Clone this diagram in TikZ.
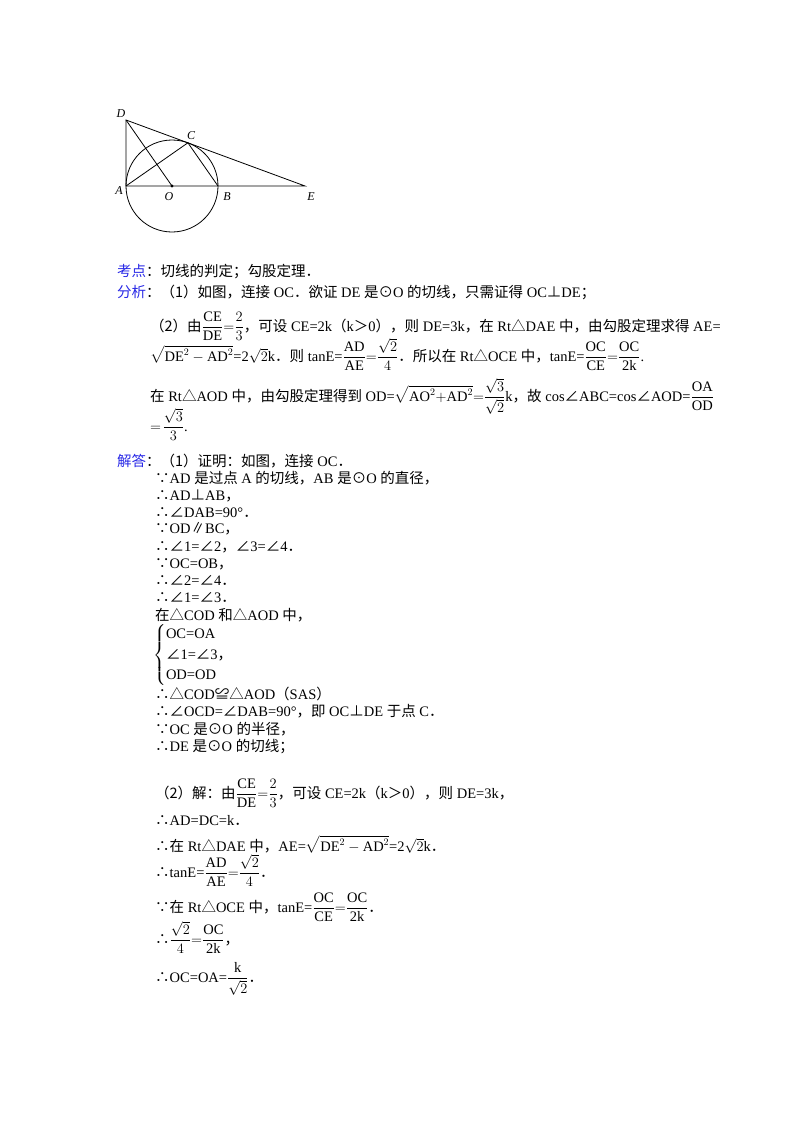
\documentclass[tikz,border=0pt]{standalone}
\usepackage{fontspec}
\usepackage{amsmath}
\setmainfont{Liberation Serif}
\newfontfamily\cjk{Noto Sans CJK SC}
\newcommand\Z[1]{{\cjk #1}}
\definecolor{lab}{RGB}{40,40,230}
\tikzset{txt/.style={anchor=base west,inner sep=0pt,font=\fontsize{14.5}{17}\selectfont},
 lbl/.style={txt,text=lab},
 pt/.style={inner sep=0pt,font=\fontsize{12}{12}\selectfont\itshape},
 geo/.style={line width=0.8pt}}
\newcommand\fr[2]{\dfrac{\mathrm{#1}}{\mathrm{#2}}}
\begin{document}
\begin{tikzpicture}[x=1pt,y=-1pt]
\useasboundingbox (0,0) rectangle (800,1132);
% figure
\coordinate (O) at (172,186);
\coordinate (A) at (126,186);
\coordinate (B) at (218,186);
\coordinate (D) at (126,120);
\coordinate (C) at (187.9,142.8);
\coordinate (E) at (305,186);
\draw[geo] (O) circle (46);
\draw[geo] (D)--(A)--(E)--cycle;
\draw[geo] (D)--(O);
\draw[geo] (A)--(C)--(B);
\fill (O) circle (1.6);
\node[pt] (lD) at (121,114) {D};
\node[pt] (lC) at (191,136) {C};
\node[pt] (lA) at (119,191) {A};
\node[pt] (lO) at (169,197) {O};
\node[pt] (lB) at (227,197) {B};
\node[pt] (lE) at (311,197) {E};
% analysis
\node[lbl] (k1) at (117,276) {\Z{考点}};
\node[txt] (k2) at (146,276) {\Z{：切线的判定；勾股定理．}};
\node[lbl] (f1) at (117,297) {\Z{分析}};
\node[txt] (f2) at (146,297) {\Z{：（1）如图，连接} OC\Z{．欲证} DE \Z{是⊙}O \Z{的切线，只需证得} OC\Z{⊥}DE\Z{；}};
\node[txt] (f3) at (150,331) {\Z{（2）由}$\fr{CE}{DE}{=}\dfrac{2}{3}$\Z{，可设} CE=2k\Z{（}k\Z{＞}0\Z{），则} DE=3k\Z{，在} Rt\Z{△}DAE \Z{中，由勾股定理求得} AE=};
\node[txt] (f4) at (150,361) {$\sqrt{\mathrm{DE}^2-\mathrm{AD}^2}$=2$\sqrt{2}$k\Z{．则} tanE=$\fr{AD}{AE}{=}\dfrac{\sqrt2}{4}$\Z{．所以在} Rt\Z{△}OCE \Z{中，}tanE=$\fr{OC}{CE}{=}\fr{OC}{2k}$.};
\node[txt] (f5) at (150,401) {\Z{在} Rt\Z{△}AOD \Z{中，由勾股定理得到} OD=$\sqrt{\mathrm{AO}^2{+}\mathrm{AD}^2}{=}\dfrac{\sqrt3}{\sqrt2}$k\Z{，故} cos\Z{∠}ABC=cos\Z{∠}AOD=$\fr{OA}{OD}$};
\node[txt] (f6) at (150,431) {$=\!\dfrac{\sqrt3}{3}$.};
% solution
\node[lbl] (j1) at (117,466) {\Z{解答}};
\node[txt] (j2) at (146,466) {\Z{：（1）证明：如图，连接} OC\Z{．}};
\node[txt] (s1) at (155,483) {\Z{∵}AD \Z{是过点} A \Z{的切线，}AB \Z{是⊙}O \Z{的直径，}};
\node[txt] (s2) at (155,500) {\Z{∴}AD\Z{⊥}AB\Z{，}};
\node[txt] (s3) at (155,517) {\Z{∴∠}DAB=90°\Z{．}};
\node[txt] (s4) at (155,533) {\Z{∵}OD\Z{∥}BC\Z{，}};
\node[txt] (s5) at (155,551) {\Z{∴∠}1=\Z{∠}2\Z{，∠}3=\Z{∠}4\Z{．}};
\node[txt] (s6) at (155,568) {\Z{∵}OC=OB\Z{，}};
\node[txt] (s7) at (155,585) {\Z{∴∠}2=\Z{∠}4\Z{．}};
\node[txt] (s8) at (155,602) {\Z{∴∠}1=\Z{∠}3\Z{．}};
\node[txt] (s9) at (155,620) {\Z{在△}COD \Z{和△}AOD \Z{中，}};
\node[txt,anchor=west] (s10) at (153,655) {$\left\{\renewcommand\arraystretch{1.2}\begin{array}{@{}l}\text{OC=OA}\\ \text{\Z{∠}1=\Z{∠}3\Z{，}}\\ \text{OD=OD}\end{array}\right.$};
\node[txt] (s11) at (155,699) {\Z{∴△}COD\Z{≌△}AOD\Z{（}SAS\Z{）}};
\node[txt] (s12) at (155,716) {\Z{∴∠}OCD=\Z{∠}DAB=90°\Z{，即} OC\Z{⊥}DE \Z{于点} C\Z{．}};
\node[txt] (s13) at (155,734) {\Z{∵}OC \Z{是⊙}O \Z{的半径，}};
\node[txt] (s14) at (155,751) {\Z{∴}DE \Z{是⊙}O \Z{的切线；}};
\node[txt] (t1) at (155,798) {\Z{（2）解：由}$\fr{CE}{DE}{=}\dfrac{2}{3}$\Z{，可设} CE=2k\Z{（}k\Z{＞}0\Z{），则} DE=3k\Z{，}};
\node[txt] (t2) at (155,825) {\Z{∴}AD=DC=k\Z{．}};
\node[txt] (t3) at (155,851) {\Z{∴在} Rt\Z{△}DAE \Z{中，}AE=$\sqrt{\mathrm{DE}^2-\mathrm{AD}^2}$=2$\sqrt2$k\Z{．}};
\node[txt] (t4) at (155,877) {\Z{∴}tanE=$\fr{AD}{AE}{=}\dfrac{\sqrt2}{4}$\Z{．}};
\node[txt] (t5) at (155,912) {\Z{∵在} Rt\Z{△}OCE \Z{中，}tanE=$\fr{OC}{CE}{=}\fr{OC}{2k}$\Z{．}};
\node[txt] (t6) at (155,944) {\Z{∴}$\dfrac{\sqrt2}{4}{=}\fr{OC}{2k}$\Z{，}};
\node[txt] (t7) at (155,982) {\Z{∴}OC=OA=$\dfrac{\mathrm{k}}{\sqrt2}$\Z{．}};
\end{tikzpicture}
\end{document}
